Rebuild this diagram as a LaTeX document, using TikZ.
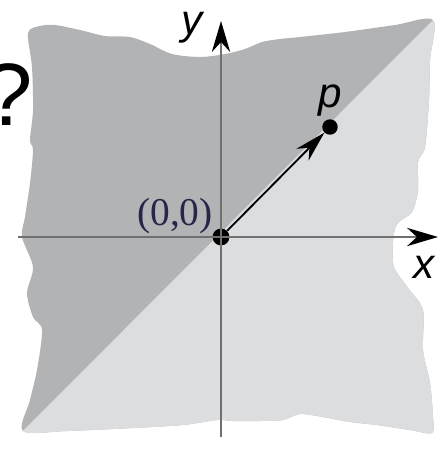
\documentclass[tikz,border=0pt]{standalone}
\usepackage{fontspec}
\setmainfont{Liberation Serif}
\setsansfont{Liberation Sans}
\usetikzlibrary{arrows.meta}

\definecolor{darkregion}{RGB}{178,179,181}
\definecolor{lightregion}{RGB}{220,221,223}
\definecolor{axisgray}{RGB}{112,112,112}
\definecolor{labelnavy}{RGB}{38,38,72}

\begin{document}
\begin{tikzpicture}[x=0.025cm, y=-0.025cm,
    axis/.style={draw=axisgray, line width=1.4pt, -{Stealth[length=22pt, width=13pt, inset=7pt, color=black]}},
    dot/.style={circle, fill, inner sep=0pt, minimum size=12pt},
    axislabel/.style={font=\sffamily\itshape\fontsize{30}{30}\selectfont, inner sep=0pt}]

    \useasboundingbox (0,0) rectangle (442,456);

    % wavy region, split along the diagonal
    \begin{scope}
        \clip plot[smooth cycle, tension=0.5] coordinates {
            (28,33) (40,26) (55,25) (80,30) (105,36) (130,37) (150,44) (172,54) (200,57)
            (225,54) (245,49) (262,42) (280,39) (300,37) (345,32) (395,25) (433,20)
            (430,60) (429,100) (425,147) (418,162) (418,190) (412,212) (397,224) (393,242)
            (394,267) (408,288) (423,310) (423,350) (430,383) (433,417) (432,433)
            (410,430) (377,425) (350,422) (323,417) (300,414) (283,420) (260,421) (233,421)
            (217,420) (183,425) (133,428) (67,431) (23,431)
            (30,400) (37,370) (42,330) (33,317) (27,293) (33,267) (22,237) (25,217)
            (30,183) (33,150) (30,140) (33,110) (32,67)};
        \fill[darkregion] (0,0) rectangle (442,456);
        \fill[lightregion] (13,441) -- (443,10) -- (460,10) -- (460,460) -- (13,460) -- cycle;
    \end{scope}

    \node[dot] (o) at (221,237) {};
    \node[dot, minimum size=11pt] (p) at (330,127) {};
    \coordinate (xl) at (18,237);
    \coordinate (xr) at (438,237);
    \coordinate (yb) at (221,437);
    \coordinate (yt) at (221,21);

    \draw[axis] (xl) -- (xr);
    \draw[axis] (yb) -- (yt);
    \draw[line width=1.3pt, -{Stealth[length=22pt, width=12pt, inset=7pt]}] (o) -- (p);

    \node[axislabel] (ylab) at (192,28) {y};
    \node[axislabel] (plab) at (330,101) {p};
    \node[axislabel] (xlab) at (424,267) {x};
    \node[font=\fontsize{28}{28}\selectfont, text=labelnavy, inner sep=0pt] (olab) at (175,216) {(0,0)};
    \node[font=\sffamily\fontsize{63}{63}\selectfont, anchor=east, inner sep=0pt] (q) at (33,95) {?};
    \node[font=\fontsize{28}{28}\selectfont, anchor=north, inner sep=0pt] (cap) at (221,458) {(b)};
\end{tikzpicture}
\end{document}
